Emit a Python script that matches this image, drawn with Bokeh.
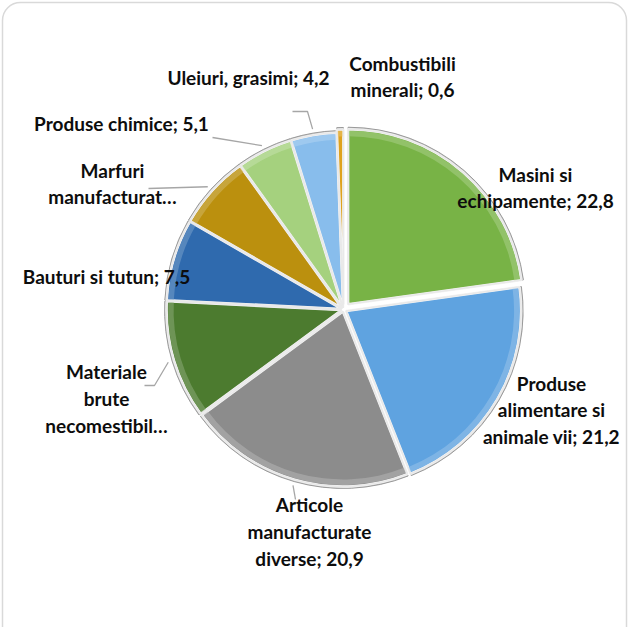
import numpy as np
from bokeh.plotting import figure
from bokeh.models import Range1d, ColumnDataSource
from bokeh.core.properties import value
from bokeh.embed import file_html
from bokeh.resources import INLINE

# ---------------- data ----------------
categories = ["Masini si echipamente", "Produse alimentare si animale vii",
              "Articole manufacturate diverse", "Materiale brute necomestibile",
              "Bauturi si tutun", "Marfuri manufacturate", "Produse chimice",
              "Uleiuri, grasimi", "Combustibili minerali"]
values = [22.8, 21.2, 20.9, 10.9, 7.5, 6.8, 5.1, 4.2, 0.6]
label_names = ["Masini si\nechipamente", "Produse\nalimentare si\nanimale vii",
               "Articole\nmanufacturate\ndiverse", "Materiale\nbrute\nnecomestibil…",
               "Bauturi si tutun", "Marfuri\nmanufacturat…", "Produse chimice",
               "Uleiuri, grasimi", "Combustibili\nminerali"]
show_value = [True, True, True, False, True, False, True, True, True]
colors = ["#78b346", "#5fa3e0", "#8c8c8c", "#4c7b2f", "#2f6aae",
          "#bb900e", "#a5d17e", "#88bdec", "#dfa21e"]

# ---------------- layout ----------------
W, H = 628, 627
PAGE_H = 643


def Y(py):
    return PAGE_H - py


CX, CY = 351, Y(317)
R = 175
explode = [7, 3, 2, 2, 2, 2, 2, 2, 5]
label_pos = [(543, 195), (559, 417.5), (317, 539), (114, 406), (114, 283.5),
             (120, 191), (129, 131), (256, 85), (410, 84)]
leader_start = {2: [(303, 507)], 3: [(152, 393), (162, 393)], 5: [(156, 196)],
                6: [(220, 145)], 7: [(300, 119), (315, 119)]}


def lighter(hexc, f):
    h = hexc.lstrip("#")
    rgb = [int(h[i:i + 2], 16) for i in (0, 2, 4)]
    rgb = [int(c + (255 - c) * f) for c in rgb]
    return "#%02x%02x%02x" % tuple(rgb)


p = figure(width=W, height=H, output_backend="svg", toolbar_location=None,
           x_range=Range1d(8, 8 + W), y_range=Range1d(Y(8 + H), Y(8)),
           min_border=0, outline_line_color=None)
p.xaxis.visible = False
p.yaxis.visible = False
p.grid.visible = False
p.background_fill_color = "white"
p.border_fill_color = "white"

# chart area border (rounded)
p.quad(left=10, right=634, top=Y(10), bottom=Y(660), fill_color=None,
       line_color="#d9d9d9", line_width=1.5, border_radius=18)

vals = np.array(values)
frac = vals / vals.sum()
theta_end = np.cumsum(frac) * 2 * np.pi       # clockwise from 12 o'clock
theta_start = theta_end - frac * 2 * np.pi
theta_mid = (theta_start + theta_end) / 2

starts = np.pi / 2 - theta_end
ends = np.pi / 2 - theta_start
xs = CX + np.array(explode) * np.sin(theta_mid)
ys = CY + np.array(explode) * np.cos(theta_mid)

src = ColumnDataSource(dict(x=xs, y=ys, start=starts, end=ends, color=colors,
                            light=[lighter(c, 0.35) for c in colors],
                            name=categories, val=values))

# outer rim (bevel frame)
p.wedge(x="x", y="y", radius=R + 2, start_angle="start", end_angle="end",
        source=src, fill_color="#bfbfbf", line_color="#9a9a9a", line_width=1)
# base slices
p.wedge(x="x", y="y", radius=R, start_angle="start", end_angle="end",
        source=src, fill_color="color", line_color="#f4f4f4", line_width=2.5)
# highlight band near the outer edge
p.annular_wedge(x="x", y="y", inner_radius=R - 7, outer_radius=R - 1.5,
                start_angle="start", end_angle="end", source=src,
                fill_color="light", fill_alpha=0.55, line_color=None)
# inner separators
p.wedge(x="x", y="y", radius=R, start_angle="start", end_angle="end",
        source=src, fill_color=None, line_color="#e9e9e9", line_width=1.5)

# leader lines
for i, pts in leader_start.items():
    rr = R + 8
    ex = CX + rr * np.sin(theta_mid[i])
    ey = CY + rr * np.cos(theta_mid[i])
    lx = [q[0] for q in pts] + [ex]
    ly = [Y(q[1]) for q in pts] + [ey]
    p.line(lx, ly, line_color="#a6a6a6", line_width=1.3)

# labels
texts = []
for name, v, s in zip(label_names, values, show_value):
    t = name + ("; " + ("%.1f" % v).replace(".", ",") if s else "")
    texts.append(t)
lsrc = ColumnDataSource(dict(x=[q[0] for q in label_pos],
                             y=[Y(q[1]) for q in label_pos], text=texts))
p.text(x="x", y="y", text="text", source=lsrc, text_font=value("Lato"),
       text_font_style="bold", text_font_size="19px", text_color="#0d0d0d",
       text_align="center", text_baseline="middle", text_line_height=1.17)

open("out.html", "w").write(file_html(p, INLINE))
